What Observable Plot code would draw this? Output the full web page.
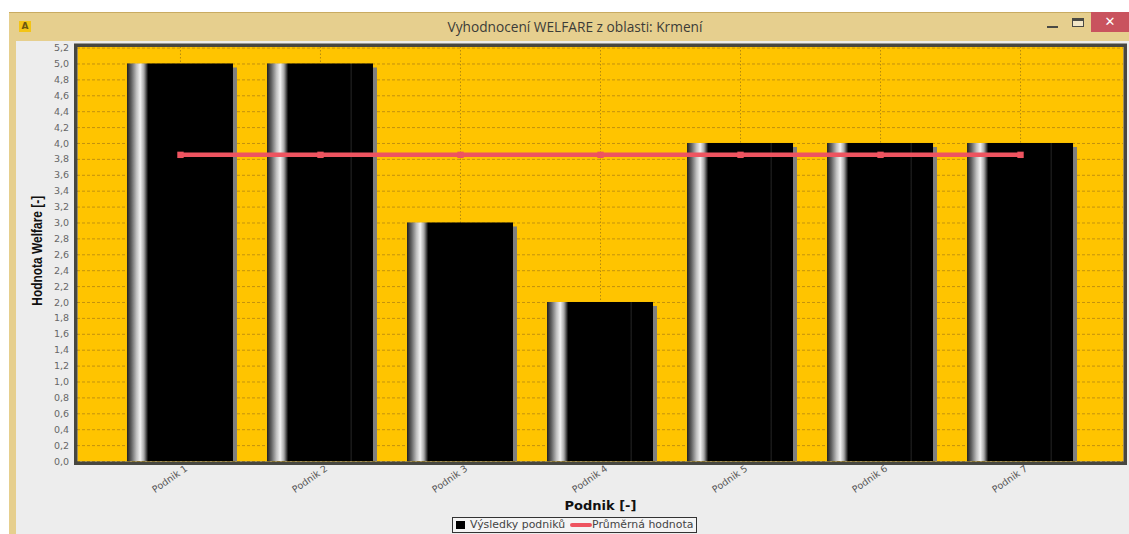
<!DOCTYPE html>
<html lang="cs">
<head>
<meta charset="utf-8">
<title>Vyhodnocení WELFARE z oblasti: Krmení</title>
<script src="https://cdn.jsdelivr.net/npm/d3@7"></script>
<script src="https://cdn.jsdelivr.net/npm/@observablehq/plot@0.6"></script>
<style>
  html, body { margin: 0; padding: 0; background: #fff; }
  #app { position: relative; width: 1129px; height: 534px; overflow: hidden; font-family: "DejaVu Sans", sans-serif; }
  #titlebar { position: absolute; left: 9px; top: 12px; right: 0; bottom: 0; background: #e6cf8e; border-top: 1px solid #c9ab62; box-sizing: border-box; }
  #panel { position: absolute; left: 16px; top: 41px; right: 0; bottom: 0; background: #ededed; }
  #title { position: absolute; left: 0; right: 0; top: 18px; padding-left: 21px; text-align: center; font: 13.7px/18px "Open Sans", sans-serif; color: #3c3c38; }
  #icon { position: absolute; left: 19px; top: 21px; width: 12px; height: 11px; background: #f3c416; font: bold 9px/11px "DejaVu Sans", sans-serif; text-align: center; color: #6b5510; }
  #min { position: absolute; left: 1047px; top: 26px; width: 11px; height: 2px; background: #4a4a44; }
  #max { position: absolute; left: 1072px; top: 18px; width: 12px; height: 9px; box-sizing: border-box; border: 1px solid #4a4a44; border-top-width: 3px; background: #f2e6c6; }
  #close { position: absolute; left: 1091px; top: 12px; width: 38px; height: 20px; background: #c9535e; color: #fff; font: bold 13px/20px "DejaVu Sans", sans-serif; text-align: center; }
  #chart { position: absolute; left: 0; top: 0; }
  #chart svg { background: transparent; display: block; }
  #legend { position: absolute; left: 452px; top: 517px; width: 245px; height: 16px; box-sizing: border-box; border: 1px solid #333; background: #f4f4f4; font-size: 10.9px; line-height: 14px; color: #444; white-space: nowrap; }
  #legend i { position: absolute; display: block; }
  #legend span { position: absolute; top: 0; }
</style>
</head>
<body>
<div id="app">
  <div id="titlebar"></div>
  <div id="panel"></div>
  <div id="icon">A</div>
  <div id="title">Vyhodnocení WELFARE z oblasti: Krmení</div>
  <div id="min"></div>
  <div id="max"></div>
  <div id="close">✕</div>
  <div id="chart"></div>
  <div id="legend">
    <i style="left:3px;top:3px;width:9px;height:8px;background:#000"></i>
    <span style="left:17px">Výsledky podniků</span>
    <i style="left:117px;top:5px;width:22px;height:4px;background:#ee5460;border-radius:2px"></i>
    <span style="left:139px">Průměrná hodnota</span>
  </div>
</div>
<script>
// Farm scores for the feeding area and their overall average.
const farms = ["Podnik 1", "Podnik 2", "Podnik 3", "Podnik 4", "Podnik 5", "Podnik 6", "Podnik 7"];
const scores = [5, 5, 3, 2, 4, 4, 4];
const averages = [3.857, 3.857, 3.857, 3.857, 3.857, 3.857, 3.857];
const yTicks = [0, 0.2, 0.4, 0.6, 0.8, 1, 1.2, 1.4, 1.6, 1.8, 2, 2.2, 2.4, 2.6, 2.8, 3, 3.2, 3.4, 3.6, 3.8, 4, 4.2, 4.4, 4.6, 4.8, 5, 5.2];
// Bars that carry the faint vertical seam in their dark part.
const seamedFarms = ["Podnik 2", "Podnik 4", "Podnik 5", "Podnik 6", "Podnik 7"];

const rows = farms.map((farm, i) => ({farm, score: scores[i], average: averages[i]}));
const decimalComma = (v) => v.toFixed(1).replace(".", ",");

// Metallic left-edge sheen shared by the bars, optionally with the seam.
function gradients() {
  const defs = d3.create("svg:defs");
  const sheen = [[0, "#1f1f1f"], [0.04, "#5f5f5f"], [0.09, "#c0c0c0"], [0.125, "#f2f2f2"], [0.16, "#a8a8a8"], [0.2, "#000"]];
  const add = (id, extra) => {
    const g = defs.append("linearGradient").attr("id", id).attr("x1", 0).attr("x2", 1).attr("y1", 0).attr("y2", 0);
    for (const [o, c] of [...sheen, ...extra]) g.append("stop").attr("offset", o).attr("stop-color", c);
  };
  add("barPlain", [[1, "#000"]]);
  add("barSeam", [[0.785, "#000"], [0.79, "#181818"], [0.8, "#181818"], [0.805, "#000"], [1, "#000"]]);
  return defs.node();
}

const chart = Plot.plot({
  width: 1129,
  height: 534,
  marginLeft: 77,
  marginRight: 6,
  marginTop: 46.5,
  marginBottom: 73,
  style: {fontFamily: "DejaVu Sans, sans-serif", background: "transparent", overflow: "visible"},
  x: {domain: farms, paddingInner: 0.243, paddingOuter: 0.357, round: false, label: null},
  y: {domain: [0, 5.2135], label: null},
  marks: [
    gradients,
    Plot.frame({fill: "#ffc400"}),
    // Grid
    Plot.ruleY(yTicks, {stroke: "#b98a10", strokeOpacity: 0.85, strokeWidth: 1, strokeDasharray: "3 2"}),
    Plot.ruleX(farms, {stroke: "#a8800f", strokeOpacity: 0.85, strokeWidth: 1, strokeDasharray: "1.5 2"}),
    // Drop shadow, then the bars themselves
    Plot.barY(rows, {x: "farm", y: "score", fill: "#7f7f7f", dx: 4, insetTop: 4}),
    Plot.barY(rows, {
      x: "farm",
      y: "score",
      fill: {value: (d) => seamedFarms.includes(d.farm) ? "url(#barSeam)" : "url(#barPlain)", scale: null}
    }),
    // Average line with its square markers
    Plot.line(rows, {x: "farm", y: "average", stroke: "#ee5460", strokeWidth: 4.5}),
    Plot.dot(rows, {x: "farm", y: "average", symbol: "square", r: 3.6, fill: "#ee5460"}),
    Plot.frame({stroke: "#474741", strokeWidth: 3.5, inset: -1.75}),
    // Axes
    Plot.axisY({ticks: yTicks, tickFormat: decimalComma, tickSize: 0, tickPadding: 8.5, fontSize: 9.5, fill: "#666", label: null}),
    Plot.axisX({tickSize: 0, tickRotate: -35, tickPadding: 6, dx: 6, fontSize: 9.5, fill: "#555", label: null}),
    Plot.text(["Podnik [-]"], {
      frameAnchor: "bottom", dy: 44, fontWeight: "bold", fontSize: 13, fill: "#111", lineAnchor: "middle"
    }),
    Plot.text(["Hodnota Welfare [-]"], {
      frameAnchor: "left", textAnchor: "middle", dx: -40, dy: -3.5, rotate: -90, fontWeight: "bold", fontSize: 15.5,
      fontFamily: "Liberation Sans", fill: "#111", className: "y-title"
    })
  ]
});
// The vertical axis title is set in a condensed cut of the face.
d3.select(chart).select(".y-title text").attr("textLength", 110).attr("lengthAdjust", "spacingAndGlyphs");
document.getElementById("chart").append(chart);
</script>
</body>
</html>
